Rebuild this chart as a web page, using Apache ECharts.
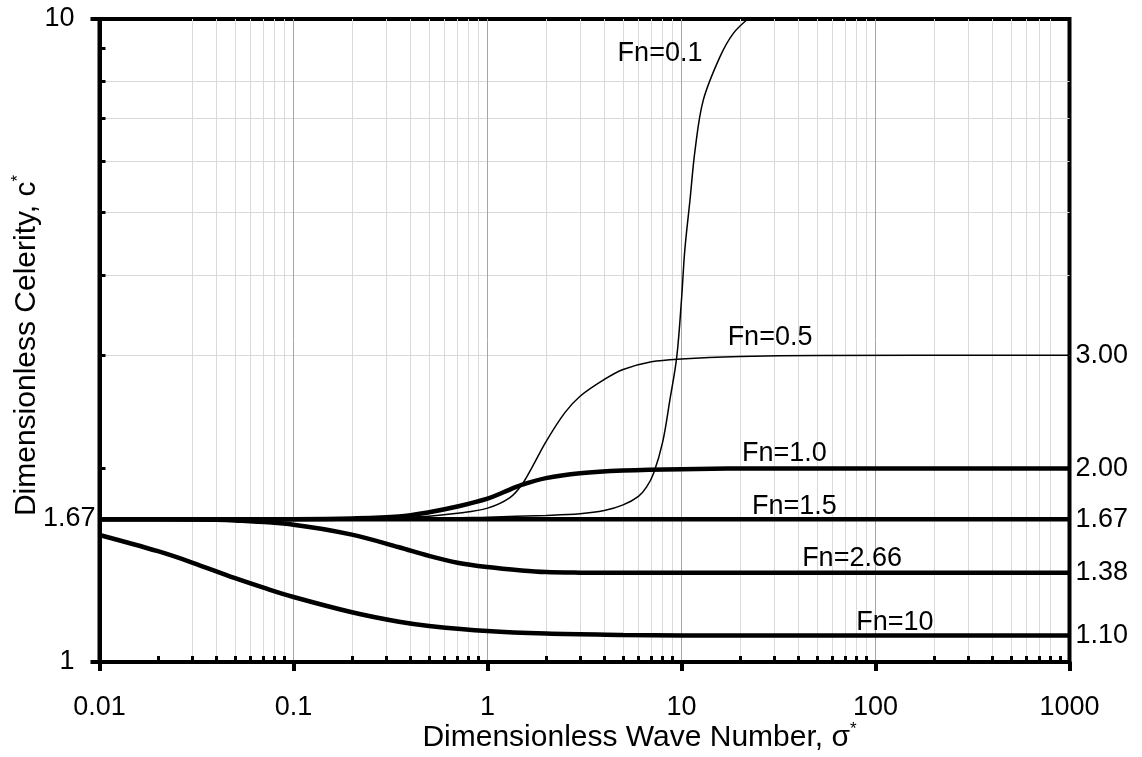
<!DOCTYPE html>
<html>
<head>
<meta charset="utf-8">
<script src="https://cdn.jsdelivr.net/npm/echarts@6/dist/echarts.min.js"></script>
<style>html,body{margin:0;padding:0;background:#fff}#c{width:1142px;height:757px}</style>
</head>
<body>
<div id="c"></div>
<script>
// ---- tick labels ----
const xMajorTicks = [0.01, 0.1, 1, 10, 100, 1000];
const xMinorTicks = [];
[0.01, 0.1, 1, 10, 100].forEach(d => { for (let k = 2; k <= 9; k++) xMinorTicks.push(+(d * k).toPrecision(6)); });
const yMajorTicks = [1, 10];
const yMinorTicks = [2, 3, 4, 5, 6, 7, 8, 9];
const yExtraLabel = [1.67];

// ---- series: [sigma*, c*] ----
const fn01 = [[0.01,1.667],[0.1,1.667],[0.5,1.672],[1,1.68],[2,1.69],[3,1.70],[4,1.72],[5,1.755],[6,1.81],[6.6,1.87],[7.2,1.97],[8,2.2],[8.7,2.55],[9.45,2.98],[10,3.66],[10.4,4.37],[11.06,5.23],[11.75,6.26],[12.95,7.48],[15.8,8.74],[18.5,9.5],[22,10]];
const fn05 = [[0.01,1.667],[0.1,1.668],[0.3,1.675],[0.5,1.686],[0.7,1.703],[1,1.735],[1.3,1.80],[1.5,1.885],[1.7,2.01],[2,2.2],[2.5,2.44],[3,2.59],[4,2.75],[5,2.85],[7,2.93],[10,2.96],[20,2.985],[50,2.997],[1000,3.0]];
const fn10 = [[0.01,1.667],[0.1,1.668],[0.2,1.672],[0.35,1.684],[0.5,1.71],[0.7,1.745],[1,1.795],[1.2,1.835],[1.5,1.885],[2,1.932],[3,1.966],[5,1.985],[10,1.995],[30,2.0],[1000,2.0]];
const fn15 = [[0.01,1.667],[0.1,1.667],[1,1.667],[10,1.667],[100,1.667],[1000,1.667]];
const fn266 = [[0.01,1.667],[0.03,1.666],[0.05,1.66],[0.1,1.635],[0.2,1.578],[0.35,1.508],[0.5,1.462],[0.7,1.427],[1,1.405],[1.5,1.388],[2,1.38],[3,1.377],[5,1.376],[1000,1.376]];
const fn100 = [[0.01,1.576],[0.02,1.487],[0.03,1.428],[0.05,1.35],[0.07,1.305],[0.1,1.262],[0.2,1.195],[0.35,1.155],[0.5,1.138],[1,1.117],[2,1.107],[5,1.102],[10,1.1],[1000,1.1]];

const FONT = 'Liberation Sans, Arial, sans-serif';
const chart = echarts.init(document.getElementById('c'), null, {renderer: 'canvas'});

const fmtX = v => String(+(+v).toPrecision(6));

function lineSeries(name, data, width, endLbl, labelCoord) {
  return {
    name: name, type: 'line', data: data, xAxisIndex: 0, yAxisIndex: 0,
    showSymbol: false, symbol: 'none', smooth: 0.35,
    clip: true, z: 3, silent: true,
    lineStyle: {color: '#000', width: width},
    endLabel: endLbl ? {show: true, formatter: p => (+p.value[1]).toFixed(2), distance: 6,
      color: '#000', fontSize: 27, fontFamily: FONT} : {show: false},
    markPoint: {
      silent: true, symbol: 'circle', symbolSize: 1,
      itemStyle: {color: 'rgba(0,0,0,0)'},
      label: {show: true, position: 'inside', formatter: name, color: '#000', fontSize: 27, fontFamily: FONT},
      data: [{coord: labelCoord}]
    }
  };
}

const option = {
  animation: false,
  backgroundColor: '#fff',
  grid: {left: 99.5, right: 72.5, top: 19, bottom: 95, show: true, borderColor: '#000', borderWidth: 4,
         backgroundColor: 'transparent', outerBoundsMode: 'none', containLabel: false},
  xAxis: [
    {
      type: 'log', logBase: 10, min: 0.01, max: 1000, position: 'bottom', z: 2,
      axisLine: {show: true, lineStyle: {color: '#000', width: 4}},
      axisTick: {show: true, inside: false, length: 9, customValues: xMajorTicks, lineStyle: {color: '#000', width: 4}},
      axisLabel: {show: true, customValues: xMajorTicks, formatter: fmtX, margin: 32, color: '#000', fontSize: 27, fontFamily: FONT},
      splitLine: {show: true, showMinLine: false, showMaxLine: false, lineStyle: {color: '#a6a6a6', width: 1}},
      minorTick: {show: false}, minorSplitLine: {show: false},
      name: '{t|Dimensionless Wave Number, σ}{s|*}', nameLocation: 'middle', nameGap: 59, nameMoveOverlap: false,
      nameTextStyle: {color: '#000', fontFamily: FONT, padding: [0, 0, 0, 110], rich: {
        t: {fontSize: 30, fontFamily: FONT, color: '#000', lineHeight: 34},
        s: {fontSize: 17, fontFamily: FONT, color: '#000', verticalAlign: 'top', lineHeight: 17}
      }}
    },
    {
      type: 'log', logBase: 10, min: 0.01, max: 1000, position: 'bottom', z: 1,
      axisLine: {show: false},
      axisTick: {show: true, inside: true, length: 6, customValues: xMinorTicks, lineStyle: {color: '#000', width: 3}},
      axisLabel: {show: false},
      splitLine: {show: true, showMinLine: false, showMaxLine: false, lineStyle: {color: '#d9d9d9', width: 1}}
    }
  ],
  yAxis: [
    {
      type: 'log', logBase: 10, min: 1, max: 10, position: 'left', z: 2,
      axisLine: {show: true, lineStyle: {color: '#000', width: 4}},
      axisTick: {show: true, inside: false, length: 9, customValues: yMajorTicks, lineStyle: {color: '#000', width: 4}},
      axisLabel: {show: true, customValues: yMajorTicks, formatter: fmtX, margin: 25, color: '#000', fontSize: 27, fontFamily: FONT},
      splitLine: {show: false},
      name: '{t|Dimensionless Celerity, c}{s|*}', nameLocation: 'middle', nameGap: 56, nameRotate: 90, nameMoveOverlap: false,
      nameTextStyle: {color: '#000', fontFamily: FONT, padding: [0, 10, 0, 0], rich: {
        t: {fontSize: 30, fontFamily: FONT, color: '#000', lineHeight: 34},
        s: {fontSize: 17, fontFamily: FONT, color: '#000', verticalAlign: 'top', lineHeight: 17}
      }}
    },
    {
      type: 'log', logBase: 10, min: 1, max: 10, position: 'left', z: 1,
      axisLine: {show: false},
      axisTick: {show: true, inside: true, length: 6, customValues: yMinorTicks, lineStyle: {color: '#000', width: 3}},
      axisLabel: {show: true, customValues: yExtraLabel, formatter: v => (+v).toFixed(2), margin: 4, color: '#000', fontSize: 27, fontFamily: FONT},
      splitLine: {show: true, showMinLine: false, showMaxLine: false, lineStyle: {color: '#d9d9d9', width: 1}}
    }
  ],
  series: [
    lineSeries('Fn=0.1', fn01, 1.5, false, [7.75, 8.85]),
    lineSeries('Fn=0.5', fn05, 1.5, true, [28.6, 3.2]),
    lineSeries('Fn=1.0', fn10, 4.5, true, [33.9, 2.106]),
    lineSeries('Fn=1.5', fn15, 4.5, true, [38.2, 1.742]),
    lineSeries('Fn=2.66', fn266, 4.5, true, [75.7, 1.446]),
    lineSeries('Fn=10', fn100, 4.5, true, [126, 1.15])
  ]
};
chart.setOption(option);
</script>
</body>
</html>
